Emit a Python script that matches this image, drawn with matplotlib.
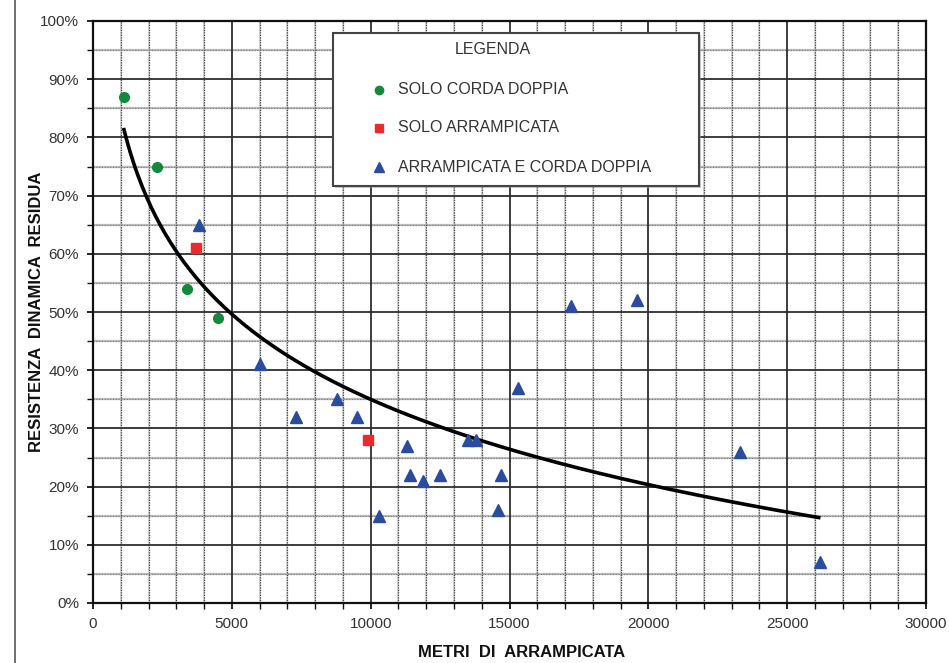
import numpy as np
import matplotlib
matplotlib.use("Agg")
import matplotlib.pyplot as plt
from matplotlib.ticker import MultipleLocator, FuncFormatter
from matplotlib.lines import Line2D
from matplotlib.patches import Rectangle

plt.rcParams['font.family'] = ['Liberation Sans', 'DejaVu Sans']

# --- data ---
corda_x = [1100, 2300, 3400, 4500]
corda_y = [87, 75, 54, 49]
arr_x = [3700, 9900]
arr_y = [61, 28]
both_x = [3800, 6000, 7300, 8800, 9500, 10300, 11300, 11400, 11900, 12500,
          13500, 13800, 14600, 14700, 15300, 17200, 19600, 23300, 26200]
both_y = [65, 41, 32, 35, 32, 15, 27, 22, 21, 22,
          28, 28, 16, 22, 37, 51, 52, 26, 7]
# logarithmic trendline  y = A - B*ln(x)
trend_A = 229.6
trend_B = 21.13
trend_range = [1100, 26200]

legend_title = "LEGENDA"
legend_labels = ["SOLO CORDA DOPPIA", "SOLO ARRAMPICATA", "ARRAMPICATA E CORDA DOPPIA"]
c_green = '#13893c'
c_red = '#ec2a2c'
c_blue = '#2a4c9e'

fig = plt.figure(figsize=(9.49, 6.63), dpi=100)
ax = fig.add_axes([93/949, 1-603/663, (926-93)/949, (603-21)/663])

ax.set_xlim(0, 30000)
ax.set_ylim(0, 100)
ax.xaxis.set_major_locator(MultipleLocator(5000))
ax.xaxis.set_minor_locator(MultipleLocator(1000))
ax.yaxis.set_major_locator(MultipleLocator(10))
ax.yaxis.set_minor_locator(MultipleLocator(5))
ax.yaxis.set_major_formatter(FuncFormatter(lambda v, p: f"{int(round(v))}%"))

# grid
for v in np.arange(1000, 30000, 1000):
    if v % 5000:
        ax.axvline(v, color='#d0d0d0', lw=1.3, ls='-', zorder=0.3)
        ax.axvline(v, color='#444444', lw=0.9, ls=(0, (1, 1)), zorder=0.5)
for v in np.arange(5, 100, 5):
    if v % 10:
        ax.axhline(v, color='#bbbbbb', lw=1.6, ls='-', zorder=0.3)
        ax.axhline(v, color='#777777', lw=0.8, ls=(0, (1, 1.5)), zorder=0.5)
ax.grid(which='major', color='#2e2e2e', lw=1.3, ls='-', zorder=1)
ax.set_axisbelow(True)

for s in ax.spines.values():
    s.set_linewidth(1.6)
    s.set_color('#111111')

ax.tick_params(which='both', direction='out', colors='#111111', labelcolor='#333333',
               labelsize=11)
ax.tick_params(which='major', length=4, width=1.3)
ax.tick_params(which='minor', length=4, width=1.0)
ax.tick_params(axis='x', which='major', pad=6)
ax.tick_params(axis='y', which='major', pad=6)

# trendline
tx = np.linspace(trend_range[0], trend_range[1], 300)
ty = trend_A - trend_B * np.log(tx)
ax.plot(tx, ty, color='black', lw=2.6, zorder=3, solid_capstyle='butt')

ax.plot(corda_x, corda_y, 'o', color=c_green, ms=7, mec=c_green, zorder=4)
ax.plot(arr_x, arr_y, 's', color=c_red, ms=7, mec=c_red, zorder=4)
ax.plot(both_x, both_y, '^', color=c_blue, ms=8, mec=c_blue, zorder=4)

ax.set_xlabel("METRI  DI  ARRAMPICATA", fontsize=12, fontweight='bold', color='#111111')
ax.xaxis.set_label_coords((522-93)/(926-93), -(645-603)/(603-21))
ax.set_ylabel("RESISTENZA  DINAMICA  RESIDUA", fontsize=12, fontweight='bold',
              color='#111111')
ax.yaxis.set_label_coords(-(93-44)/(926-93), 0.5)

# legend box (custom, in pixel coordinates)
def px(x, y):
    return (x/949, 1-y/663)

x0, y0 = px(333, 186)
x1, y1 = px(699, 33)
fig.patches.append(Rectangle((x0 + 0.002, y0 - 0.003), x1-x0, y1-y0, transform=fig.transFigure,
                             facecolor='#999999', edgecolor='none', zorder=5, alpha=0.5))
fig.patches.append(Rectangle((x0, y0), x1-x0, y1-y0, transform=fig.transFigure,
                             facecolor='white', edgecolor='#444444', lw=1.5, zorder=6))
tx_, ty_ = px(493, 50)
fig.text(tx_, ty_, legend_title, ha='center', va='center', fontsize=11.5, color='#333333', zorder=7)
markers = [('o', c_green, 6), ('s', c_red, 6), ('^', c_blue, 6.5)]
ys = [90, 128, 167]
for lab, (m, c, s), yy in zip(legend_labels, markers, ys):
    mx, my = px(379, yy)
    fig.lines.append(Line2D([mx], [my], marker=m, color=c, ms=s, mec=c, ls='none',
                            transform=fig.transFigure, zorder=7))
    lx, ly = px(398, yy)
    fig.text(lx, ly, lab, ha='left', va='center', fontsize=11.5, color='#333333', zorder=7)

# frame line at left
fig.lines.append(Line2D([15/949, 15/949], [0, 1], color='#555555', lw=1.2,
                        transform=fig.transFigure))

fig.savefig("out.png", dpi=100)
